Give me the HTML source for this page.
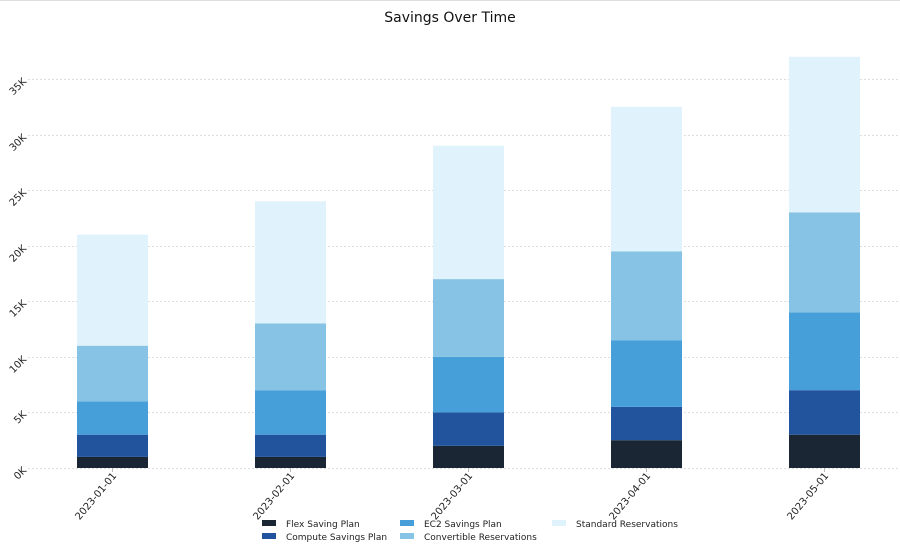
<!DOCTYPE html>
<html><head><meta charset="utf-8"><style>
html,body{margin:0;padding:0;background:#fff}
svg{display:block;font-family:"DejaVu Sans","Liberation Sans",sans-serif}
</style></head><body>
<svg width="900" height="552" viewBox="0 0 900 552" xmlns="http://www.w3.org/2000/svg">
<line x1="0" y1="0.5" x2="900" y2="0.5" stroke="#ddd"/>
<text x="450" y="22" text-anchor="middle" font-size="14" fill="#111">Savings Over Time</text>
<g stroke="#ddd" stroke-width="1" stroke-dasharray="2,2">
<line x1="28" x2="898" y1="468.5" y2="468.5"/>
<line x1="28" x2="898" y1="412.5" y2="412.5"/>
<line x1="28" x2="898" y1="357.5" y2="357.5"/>
<line x1="28" x2="898" y1="301.5" y2="301.5"/>
<line x1="28" x2="898" y1="246.5" y2="246.5"/>
<line x1="28" x2="898" y1="190.5" y2="190.5"/>
<line x1="28" x2="898" y1="135.5" y2="135.5"/>
<line x1="28" x2="898" y1="79.5" y2="79.5"/>
</g>
<g font-size="10" fill="#222" text-anchor="end">
<text transform="translate(27,471) rotate(-45)">0K</text>
<text transform="translate(27,415) rotate(-45)">5K</text>
<text transform="translate(27,360) rotate(-45)">10K</text>
<text transform="translate(27,304) rotate(-45)">15K</text>
<text transform="translate(27,249) rotate(-45)">20K</text>
<text transform="translate(27,193) rotate(-45)">25K</text>
<text transform="translate(27,138) rotate(-45)">30K</text>
<text transform="translate(27,82) rotate(-45)">35K</text>
</g>
<g>
<rect x="77" y="456.9" width="71" height="11.1" fill="#1a2634"/>
<rect x="77" y="434.7" width="71" height="22.2" fill="#21549c"/>
<rect x="77" y="401.3" width="71" height="33.4" fill="#479fd9"/>
<rect x="77" y="345.7" width="71" height="55.6" fill="#86c3e4"/>
<rect x="77" y="234.6" width="71" height="111.1" fill="#e0f2fb"/>

<rect x="255" y="456.9" width="71" height="11.1" fill="#1a2634"/>
<rect x="255" y="434.7" width="71" height="22.2" fill="#21549c"/>
<rect x="255" y="390.2" width="71" height="44.5" fill="#479fd9"/>
<rect x="255" y="323.5" width="71" height="66.7" fill="#86c3e4"/>
<rect x="255" y="201.3" width="71" height="122.2" fill="#e0f2fb"/>

<rect x="433" y="445.8" width="71" height="22.2" fill="#1a2634"/>
<rect x="433" y="412.4" width="71" height="33.4" fill="#21549c"/>
<rect x="433" y="356.9" width="71" height="55.5" fill="#479fd9"/>
<rect x="433" y="279.1" width="71" height="77.8" fill="#86c3e4"/>
<rect x="433" y="145.7" width="71" height="133.4" fill="#e0f2fb"/>

<rect x="611" y="440.2" width="71" height="27.8" fill="#1a2634"/>
<rect x="611" y="406.9" width="71" height="33.3" fill="#21549c"/>
<rect x="611" y="340.2" width="71" height="66.7" fill="#479fd9"/>
<rect x="611" y="251.3" width="71" height="88.9" fill="#86c3e4"/>
<rect x="611" y="106.8" width="71" height="144.5" fill="#e0f2fb"/>

<rect x="789" y="434.7" width="71" height="33.3" fill="#1a2634"/>
<rect x="789" y="390.2" width="71" height="44.5" fill="#21549c"/>
<rect x="789" y="312.4" width="71" height="77.8" fill="#479fd9"/>
<rect x="789" y="212.4" width="71" height="100" fill="#86c3e4"/>
<rect x="789" y="56.8" width="71" height="155.6" fill="#e0f2fb"/>
</g>
<g font-size="10" fill="#222" text-anchor="end">
<text transform="translate(117,476) rotate(-50)">2023-01-01</text>
<text transform="translate(295,476) rotate(-50)">2023-02-01</text>
<text transform="translate(473,476) rotate(-50)">2023-03-01</text>
<text transform="translate(651,476) rotate(-50)">2023-04-01</text>
<text transform="translate(829,476) rotate(-50)">2023-05-01</text>
</g>
<g stroke="#bbb"><line x1="112.5" x2="112.5" y1="468" y2="472"/><line x1="290.5" x2="290.5" y1="468" y2="472"/><line x1="468.5" x2="468.5" y1="468" y2="472"/><line x1="646.5" x2="646.5" y1="468" y2="472"/><line x1="824.5" x2="824.5" y1="468" y2="472"/></g>
<g font-size="9" fill="#222">
<rect x="262" y="520" width="14" height="6" fill="#1a2634"/><text x="286" y="527">Flex Saving Plan</text>
<rect x="262" y="533" width="14" height="6" fill="#21549c"/><text x="286" y="540">Compute Savings Plan</text>
<rect x="400" y="520" width="14" height="6" fill="#479fd9"/><text x="424" y="527">EC2 Savings Plan</text>
<rect x="400" y="533" width="14" height="6" fill="#86c3e4"/><text x="424" y="540">Convertible Reservations</text>
<rect x="552" y="520" width="14" height="6" fill="#e0f2fb"/><text x="576" y="527">Standard Reservations</text>
</g>
</svg>
</body></html>
